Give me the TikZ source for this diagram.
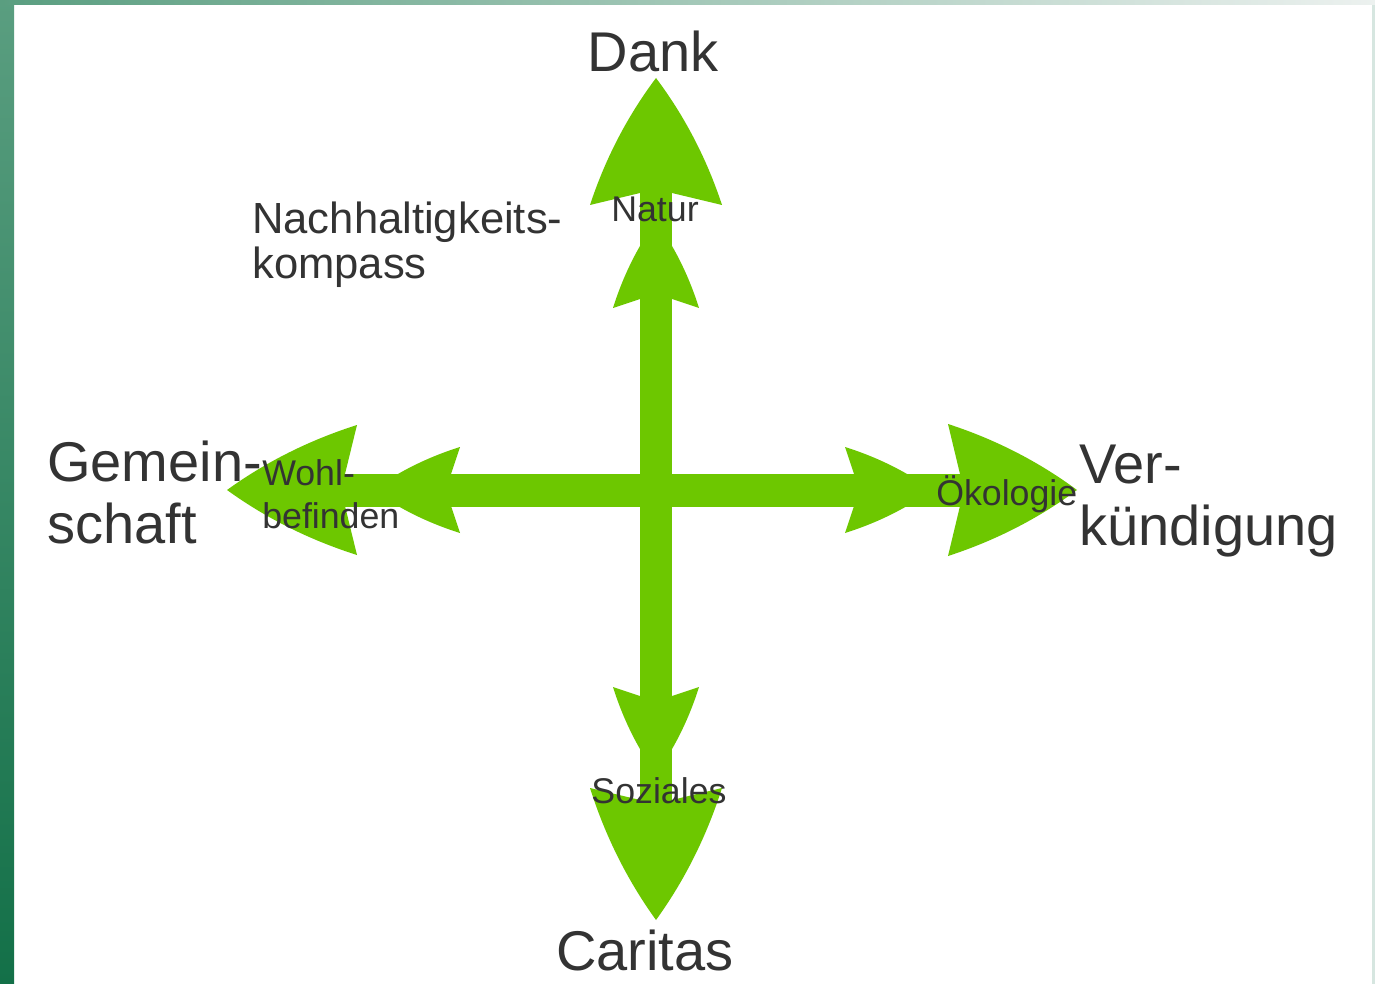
\documentclass[tikz,border=0pt]{standalone}
\usepackage{fontspec}
\setmainfont{Liberation Sans}
\definecolor{arrowgreen}{RGB}{109,199,0}
\definecolor{txt}{RGB}{51,51,51}
\definecolor{bordertop}{RGB}{90,158,128}
\definecolor{borderbot}{RGB}{19,112,72}
\definecolor{topmid}{RGB}{168,204,191}
\definecolor{topright}{RGB}{236,241,239}
\definecolor{rightedge}{RGB}{214,230,224}
\tikzset{
  big/.style={font=\fontsize{42}{46.5}\selectfont, text=txt, inner sep=0pt, align=left},
  mid/.style={font=\fontsize{32.7}{34}\selectfont, text=txt, inner sep=0pt, align=left},
  small/.style={font=\fontsize{26.8}{32}\selectfont, text=txt, inner sep=0pt, align=left},
  pics/arrowhead/.style args={#1/#2/#3}{code={
    \fill[arrowgreen] (0,0) .. controls (-0.3*#1,0.433*#2) and (-0.633*#1,0.767*#2) .. (-#1,#2)
      -- (-#1+#3,16) -- (-#1+#3,-16) -- (-#1,-#2)
      .. controls (-0.633*#1,-0.767*#2) and (-0.3*#1,-0.433*#2) .. (0,0) -- cycle;
  }}
}
\begin{document}
\begin{tikzpicture}[x=0.75pt,y=-0.75pt]
\useasboundingbox (0,0) rectangle (1375,984);
% frame
\fill[white] (0,0) rectangle (1375,984);
\shade[top color=bordertop, bottom color=borderbot] (0,0) rectangle (14,984);
\shade[left color=bordertop, middle color=topmid, right color=topright] (0,0) rectangle (1375,5);
\fill[rightedge] (1372,5) rectangle (1375,984);
\coordinate (c) at (656,490);
% shafts
\fill[arrowgreen] (640,170) rectangle (672,815);
\fill[arrowgreen] (330,474) rectangle (975,507);
% heads up
\pic[rotate=90] at (656,78) {arrowhead=127/66/12};
\pic[rotate=90] at (656,221) {arrowhead=87/43/9};
% heads down
\pic[rotate=-90] at (656,920) {arrowhead=132/66/12};
\pic[rotate=-90] at (656,774) {arrowhead=87/43/9};
% heads left
\pic[rotate=180] at (227,490) {arrowhead=130/65/12};
\pic[rotate=180] at (373,490) {arrowhead=87/43/9};
% heads right
\pic at (1077,490) {arrowhead=129/66/12};
\pic at (932,490) {arrowhead=87/43/9};
% labels
\node[big, anchor=base] (dank) at (653,72) {Dank};
\node[big, anchor=base] (caritas) at (645,970) {Caritas};
\node[big, anchor=base west] (gemeinschaft) at (47,543) {Gemein-\\schaft};
\node[big, anchor=base west] (verkuendigung) at (1079,545) {Ver-\\kündigung};
\node[mid, anchor=base west] (kompass) at (252,279) {Nachhaltigkeits-\\kompass};
\node[small, anchor=base] (natur) at (655,222) {Natur};
\node[small, anchor=base] (soziales) at (659,803) {Soziales};
\node[small, anchor=base west] (oekologie) at (936,505) {Ökologie};
\node[small, anchor=base west] (wohl) at (262,528) {Wohl-\\befinden};
\end{tikzpicture}
\end{document}
